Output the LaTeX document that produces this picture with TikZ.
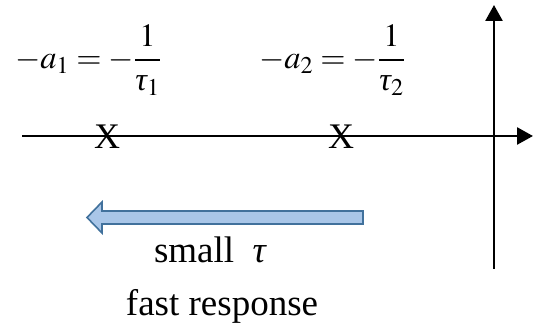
\documentclass[tikz,border=0pt]{standalone}
\usepackage{mathptmx}
\usepackage[no-math]{fontspec}
\setmainfont{Liberation Serif}
\usepackage{xcolor}
\usepackage{tikz}
\usetikzlibrary{arrows.meta,positioning,calc}
\definecolor{ArrowFill}{HTML}{A9C6E8}
\definecolor{ArrowLine}{HTML}{41719C}
\newcommand{\itau}{\mbox{\itshape τ}}

\begin{document}
\begin{tikzpicture}[
  x=1pt, y=1pt,
  axis/.style={line width=2.6pt,-{Triangle[length=16pt,width=17pt]}},
  pole/.style={inner sep=0pt,font=\fontsize{36}{40}\selectfont},
  polelabel/.style={inner sep=0pt,font=\fontsize{32.5}{36}\selectfont},
  caption/.style={inner sep=0pt,anchor=base,font=\fontsize{37}{42}\selectfont},
  blockarrow/.style={fill=ArrowFill,draw=ArrowLine,line width=1.6pt,line join=miter}
]
  \useasboundingbox (0,0) rectangle (533,328);
  % axes
  \coordinate (left) at (22,192);
  \coordinate (right) at (533,192);
  \coordinate (bottom) at (494,59);
  \coordinate (top) at (494,323);
  \draw[axis] (left) -- (right);
  \draw[axis] (bottom) -- (top);
  % poles
  \node[pole] (p1) at (107,191) {X};
  \node[pole] (p2) at (341,191) {X};
  \node[polelabel] (l1) at (88,268) {$\displaystyle -a_1=-\frac{1}{\itau_1}$};
  \node[polelabel] (l2) at (332,268) {$\displaystyle -a_2=-\frac{1}{\itau_2}$};
  % direction of small tau
  \draw[blockarrow] (363,104) -- (102,104) -- (102,95) -- (87,110.5)
    -- (102,126) -- (102,117) -- (363,117) -- cycle;
  \node[caption] (small) at (210,65) {small\ \ \itau};
  \node[caption] (fast) at (222,12) {fast response};
\end{tikzpicture}
\end{document}
